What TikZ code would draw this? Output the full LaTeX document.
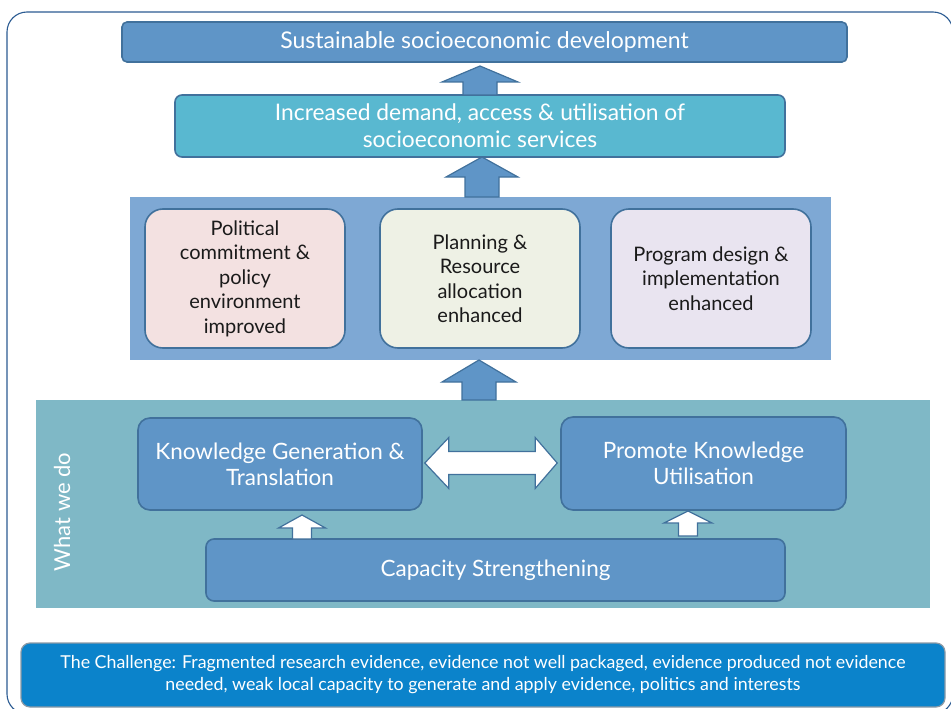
\documentclass[tikz,border=0pt]{standalone}
\usepackage{fontspec}
\setmainfont{Lato}
\usetikzlibrary{calc}
\definecolor{frame}{HTML}{2B5B92}
\definecolor{bluefill}{HTML}{5F95C7}
\definecolor{blueline}{HTML}{41719C}
\definecolor{cyanfill}{HTML}{59B8D0}
\definecolor{bandone}{HTML}{7EA8D4}
\definecolor{bandtwo}{HTML}{7FB8C6}
\definecolor{pinkfill}{HTML}{F3E1E1}
\definecolor{greenfill}{HTML}{EEF1E5}
\definecolor{lavfill}{HTML}{E9E4F0}
\definecolor{challfill}{HTML}{0B83CB}
\definecolor{challline}{HTML}{8C9AA6}
\definecolor{darktext}{HTML}{1A1A1A}
\tikzset{
  box/.style={draw=blueline, line width=1.6pt, rounded corners=5pt, inner sep=0pt, align=center},
  softbox/.style={draw=blueline, line width=1.6pt, rounded corners=18pt, inner sep=0pt, align=center,
     text=darktext, minimum width=200pt, minimum height=139pt, font=\fontsize{20}{24.5}\selectfont},
  band/.style={inner sep=0pt},
  fatblue/.style={fill=bluefill, draw=blueline, line width=1.2pt, line join=miter},
  fatwhite/.style={fill=white, draw=blueline, line width=1.2pt, line join=miter},
}
\newcommand\uparr[6]{%
  \path[#1] let \p1=(#2), \p2=(#3) in
    (\x1-#4,\y1) -- (\x1-#4,\y2-#6) -- (\x1-#5,\y2-#6) -- (\x1,\y2) --
    (\x1+#5,\y2-#6) -- (\x1+#4,\y2-#6) -- (\x1+#4,\y1) -- cycle;}
\begin{document}
\begin{tikzpicture}[x=1pt,y=-1pt]
\useasboundingbox (0,0) rectangle (951,709);
\clip (0,0) rectangle (951,709);
% outer frame
\draw[frame, line width=1.1pt, rounded corners=20pt] (7,12) rectangle (953,714);

% bands
\node[band, fill=bandone, minimum width=701pt, minimum height=163pt] (bandA) at (480.5,278.5) {};
\node[band, fill=bandtwo, minimum width=894pt, minimum height=208pt] (bandB) at (483,504) {};

% top boxes
\node[box, fill=bluefill, text=white, minimum width=725pt, minimum height=40pt,
      font=\fontsize{23}{27}\selectfont] (goal) at (484.5,42) {Sustainable socioeconomic development};
\node[box, fill=cyanfill, text=white, minimum width=610pt, minimum height=62pt, rounded corners=7pt,
      font=\fontsize{22.8}{27}\selectfont] (demand) at (480,126) {Increased demand, access \& utilisation of\\socioeconomic services};

% outcome boxes
\node[softbox, fill=pinkfill] (polit) at (245,278.5) {Political\\commitment \&\\policy\\environment\\improved};
\node[softbox, fill=greenfill] (plan) at (480,278.5) {Planning \&\\Resource\\allocation\\enhanced};
\node[softbox, fill=lavfill] (prog) at (711,278.5) {Program design \&\\implementation\\enhanced};

% what we do boxes
\node[box, fill=bluefill, text=white, rounded corners=12pt, minimum width=284pt, minimum height=92pt,
      font=\fontsize{22.5}{26}\selectfont] (kgen) at (280,464) {Knowledge Generation \&\\Translation};
\node[box, fill=bluefill, text=white, rounded corners=12pt, minimum width=285pt, minimum height=93pt,
      font=\fontsize{22.5}{26}\selectfont] (promote) at (703.5,463.5) {Promote Knowledge\\Utilisation};
\node[box, fill=bluefill, text=white, rounded corners=8pt, minimum width=579pt, minimum height=62pt,
      font=\fontsize{22.5}{26}\selectfont] (capacity) at (495.5,570) {Capacity Strengthening};

\node[text=white, rotate=90, inner sep=0pt, font=\fontsize{22}{24}\selectfont] (whatwedo) at (62,512) {What we do};

% challenge
\node[draw=challline, line width=1.2pt, fill=challfill, rounded corners=9pt, inner sep=0pt,
      text=white, align=center, minimum width=924pt, minimum height=64pt,
      font=\fontsize{17.8}{22}\selectfont] (challenge) at (483,675)
  {The Challenge: Fragmented research evidence, evidence not well packaged, evidence produced not evidence\\needed, weak local capacity to generate and apply evidence, politics and interests};

% block arrows
\coordinate (a1s) at (480,95);  \coordinate (a1e) at (480,66);
\coordinate (a2s) at (482,197); \coordinate (a2e) at (482,157);
\coordinate (a3s) at (479,400); \coordinate (a3e) at (479,360);
\uparr{fatblue}{a1s}{a1e}{17pt}{38pt}{16pt}
\uparr{fatblue}{a2s}{a2e}{17pt}{36pt}{20pt}
\uparr{fatblue}{a3s}{a3e}{17pt}{37pt}{22pt}

\coordinate (s1s) at (302,539); \coordinate (s1e) at (302,515);
\coordinate (s2s) at (688,536); \coordinate (s2e) at (688,511);
\uparr{fatwhite}{s1s}{s1e}{9.5pt}{23.5pt}{13pt}
\uparr{fatwhite}{s2s}{s2e}{9.5pt}{24pt}{12pt}

% double arrow between knowledge boxes
\path[fatwhite] let \p1=(kgen.east), \p2=(promote.west) in
  (\x1+2pt,-463pt) -- (\x1+26pt,-437.5pt) -- (\x1+26pt,-451.5pt) -- (\x2-25pt,-451.5pt) --
  (\x2-25pt,-437.5pt) -- (\x2-3pt,-463pt) -- (\x2-25pt,-488.5pt) -- (\x2-25pt,-474.5pt) --
  (\x1+26pt,-474.5pt) -- (\x1+26pt,-488.5pt) -- cycle;
\end{tikzpicture}
\end{document}
